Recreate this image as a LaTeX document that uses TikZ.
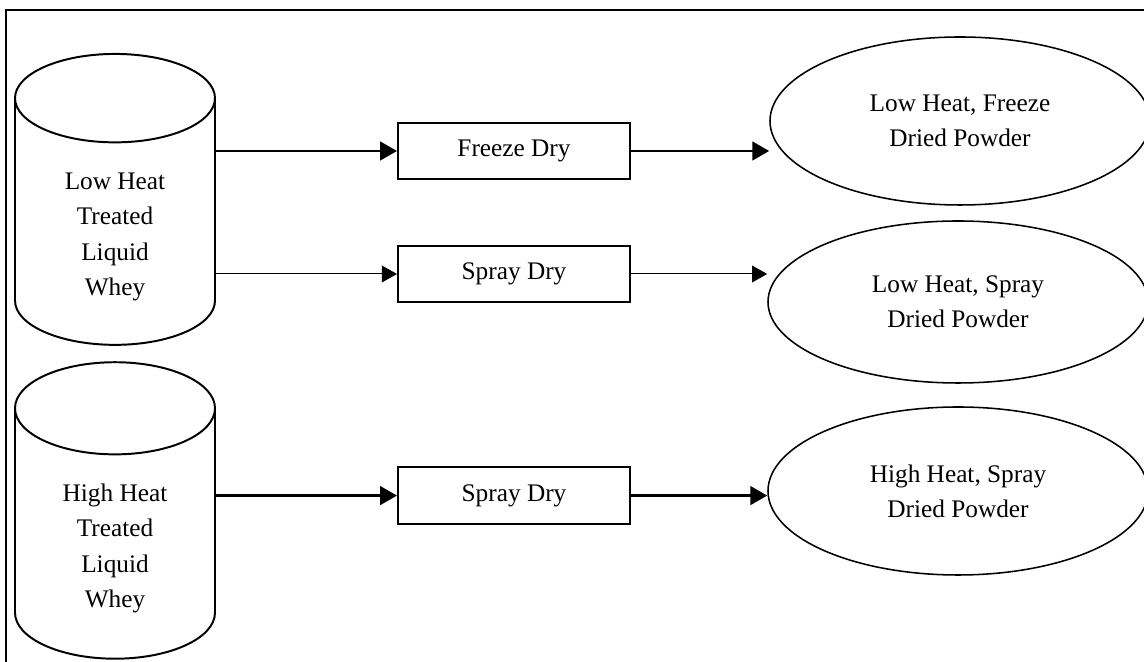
\documentclass[tikz,border=0pt]{standalone}
\usepackage{fontspec}
\setmainfont{Liberation Serif}
\usetikzlibrary{positioning, shapes.geometric, arrows.meta}

\begin{document}
\begin{tikzpicture}[->, >={Triangle[length=0.42cm, width=0.46cm]}, line width=2.1pt,
  every node/.style={font=\fontsize{18}{25}\selectfont, align=center},
  whey/.style={draw, cylinder, shape border rotate=90, aspect=0.88,
    minimum width=5cm, minimum height=7.15cm, line width=1.4pt, inner sep=0,
    text height=108pt},
  dryer/.style={draw, rectangle, line width=1.4pt,
    minimum width=5.8cm, minimum height=1.42cm},
  powder/.style={draw, ellipse, line width=1.1pt,
    minimum width=9.5cm, minimum height=4.2cm},
  thin arrow/.style={line width=0.7pt, >={Triangle[length=0.38cm, width=0.42cm]}}]
  \useasboundingbox (0,0) rectangle (28.6,16.55);
  \clip (0,0) rectangle (28.6,16.55);
  %\draw[help lines] (0,0) grid (28,16);

  % frame
  \draw[-, line width=0.8pt] (0.15,0) -- (0.15,16.3) -- (28.6,16.3);

  % liquid whey
  \node[whey] (lowwhey) at (2.875,11.0) {Low Heat\\Treated\\Liquid\\Whey};
  \node[whey] (highwhey) at (2.875,3.2) {High Heat\\Treated\\Liquid\\Whey};

  % drying
  \node[dryer] (freeze) at (12.85,12.775) {Freeze Dry};
  \node[dryer] (lowspray) at (12.85,9.7) {Spray Dry};
  \node[dryer] (highspray) at (12.85,4.16) {Spray Dry};

  % powders
  \node[powder] (lowfreeze) at (24,13.525) {Low Heat, Freeze\\Dried Powder};
  \node[powder, minimum height=4.05cm] (lowsprayed) at (23.95,9.0)
  {Low Heat, Spray\\Dried Powder};
  \node[powder] (highsprayed) at (23.95,4.275) {High Heat, Spray\\Dried Powder};

  \path (freeze.west -| lowwhey.east) edge (freeze.west)
  (freeze.east) edge (freeze.east -| lowfreeze.west)
  (lowspray.west -| lowwhey.east) edge[thin arrow] (lowspray.west)
  (lowspray.east) edge[thin arrow] (lowspray.east -| lowsprayed.west)
  (highspray.west -| highwhey.east) edge (highspray.west)
  (highspray.east) edge (highspray.east -| highsprayed.west);
\end{tikzpicture}
\end{document}
